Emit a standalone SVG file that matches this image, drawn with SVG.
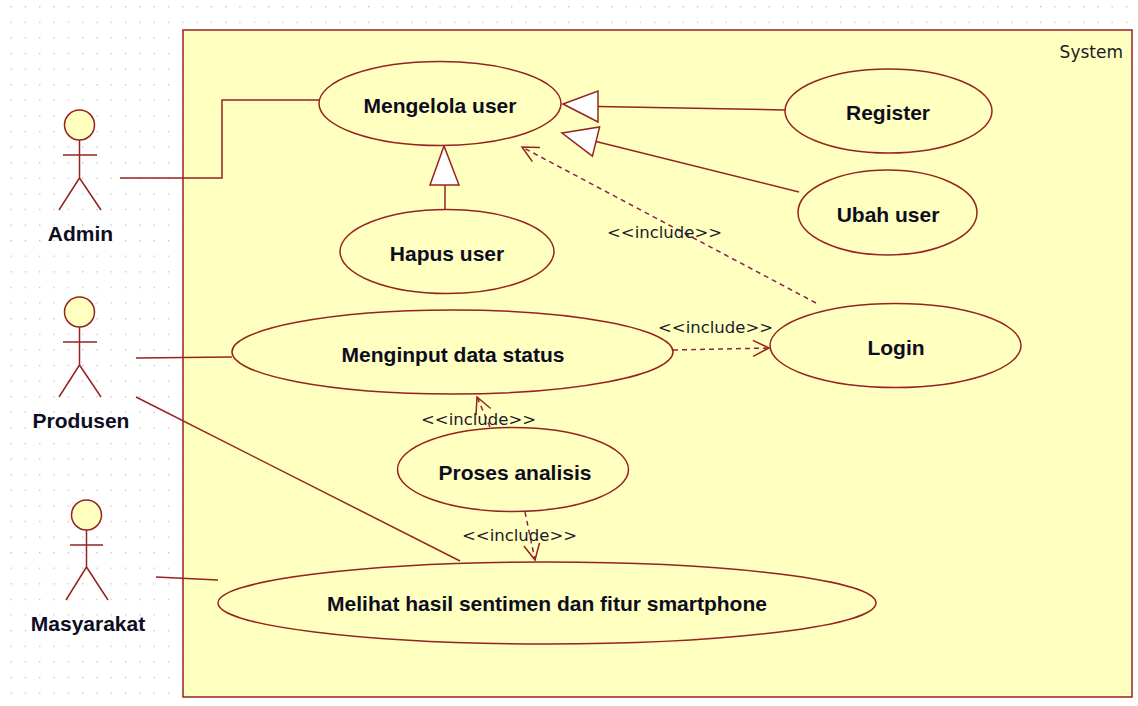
<svg xmlns="http://www.w3.org/2000/svg" width="1138" height="706" viewBox="0 0 1138 706">
<style>
.uc{fill:#FFFFC0;stroke:#982222;stroke-width:1.5}
.ln{fill:none;stroke:#982222;stroke-width:1.5}
.wb{fill:none;stroke:#ffffff;stroke-width:1.5}
.dash{fill:none;stroke:#982222;stroke-width:1.5;stroke-dasharray:5 4}
.gen{fill:#ffffff;stroke:#982222;stroke-width:1.5}
.lbl{font-family:"Liberation Sans",Arial,sans-serif;font-weight:bold;font-size:21px;fill:#0d0d1f;text-anchor:middle}
.inc{font-family:"DejaVu Sans",sans-serif;font-size:16.5px;fill:#1a1a2a}
.sys{font-family:"DejaVu Sans",sans-serif;font-size:17px;fill:#1a1a2a;text-anchor:end}
</style>
<defs>
<pattern id="grid" x="10.5" y="6" width="14.3" height="15.6" patternUnits="userSpaceOnUse">
<rect width="1.3" height="1.3" fill="#bdbdbd"/>
</pattern>
<marker id="open" viewBox="0 0 20 20" refX="18" refY="10" markerWidth="20" markerHeight="20" markerUnits="userSpaceOnUse" orient="auto">
<path d="M2,2 L18,10 L2,18" fill="none" stroke="#982222" stroke-width="1.5"/>
</marker>
</defs>
<rect width="1138" height="706" fill="#ffffff"/>
<rect width="1138" height="706" fill="url(#grid)"/>

<g id="system">
<rect x="183" y="30" width="949" height="667" class="uc"/>
<text x="1123" y="58" class="sys">System</text>
</g>

<g id="connectors">
<polyline points="120,178 222,178 222,100 319,100" class="ln"/>
<line x1="136" y1="358" x2="232" y2="357" class="ln"/>
<line x1="136" y1="397" x2="460" y2="561" class="ln"/>
<line x1="156" y1="577" x2="218" y2="580" class="ln"/>
<line x1="785" y1="110" x2="598" y2="106.5" class="ln"/>
<polygon points="563,104 598,91 598,122" class="gen"/>
<line x1="799" y1="192" x2="596" y2="141.5" class="ln"/>
<polygon points="562,133 599.6,126.9 592.4,156.1" class="gen"/>
<line x1="445" y1="209" x2="445" y2="185" class="ln"/>
<polygon points="444,146 430,185 459,185" class="gen"/>
<line x1="816" y1="303" x2="522" y2="147" class="wb"/>
<line x1="816" y1="303" x2="522" y2="147" class="dash" marker-end="url(#open)"/>
<line x1="673" y1="350" x2="769" y2="348" class="wb"/>
<line x1="673" y1="350" x2="769" y2="348" class="dash" marker-end="url(#open)"/>
<line x1="490" y1="427" x2="477" y2="397" class="wb"/>
<line x1="490" y1="427" x2="477" y2="397" class="dash" marker-end="url(#open)"/>
<line x1="525" y1="512" x2="535" y2="560" class="wb"/>
<line x1="525" y1="512" x2="535" y2="560" class="dash" marker-end="url(#open)"/>
</g>

<g id="actor-admin">
<circle cx="79.5" cy="125" r="15" class="uc"/>
<path d="M79.5,140 V178 M63,155 H97 M79.5,178 L59,210 M79.5,178 L101,210" class="ln"/>
<text x="80.5" y="241" class="lbl">Admin</text>
</g>
<g id="actor-produsen">
<circle cx="79.5" cy="312" r="15" class="uc"/>
<path d="M79.5,327 V365 M63,342 H97 M79.5,365 L59,397 M79.5,365 L101,397" class="ln"/>
<text x="81" y="428" class="lbl">Produsen</text>
</g>
<g id="actor-masyarakat">
<circle cx="86.5" cy="515" r="15" class="uc"/>
<path d="M86.5,530 V567 M70,545 H103 M86.5,567 L66,600 M86.5,567 L108,600" class="ln"/>
<text x="88" y="631" class="lbl">Masyarakat</text>
</g>

<g id="uc-mengelola">
<ellipse cx="440" cy="103.5" rx="121" ry="42" class="uc"/>
<text x="440" y="113" class="lbl">Mengelola user</text>
</g>
<g id="uc-register">
<ellipse cx="888.5" cy="111" rx="103.5" ry="42" class="uc"/>
<text x="888" y="120" class="lbl">Register</text>
</g>
<g id="uc-ubah">
<ellipse cx="887.5" cy="212.5" rx="89.5" ry="42.5" class="uc"/>
<text x="888" y="222" class="lbl">Ubah user</text>
</g>
<g id="uc-hapus">
<ellipse cx="447" cy="251.5" rx="107" ry="42" class="uc"/>
<text x="447" y="261" class="lbl">Hapus user</text>
</g>
<g id="uc-login">
<ellipse cx="895.5" cy="345.5" rx="125.5" ry="42" class="uc"/>
<text x="896" y="355" class="lbl">Login</text>
</g>
<g id="uc-menginput">
<ellipse cx="452.5" cy="352" rx="220.5" ry="42" class="uc"/>
<text x="453" y="362" class="lbl">Menginput data status</text>
</g>
<g id="uc-proses">
<ellipse cx="513" cy="469.5" rx="115.5" ry="42" class="uc"/>
<text x="515" y="480" class="lbl">Proses analisis</text>
</g>
<g id="uc-melihat">
<ellipse cx="547" cy="603" rx="329" ry="41" class="uc"/>
<text x="547" y="611" class="lbl">Melihat hasil sentimen dan fitur smartphone</text>
</g>

<g id="include-labels">
<text x="607" y="238" class="inc">&lt;&lt;include&gt;&gt;</text>
<text x="658" y="333" class="inc">&lt;&lt;include&gt;&gt;</text>
<text x="421" y="425" class="inc">&lt;&lt;include&gt;&gt;</text>
<text x="462" y="541" class="inc">&lt;&lt;include&gt;&gt;</text>
</g>
</svg>
